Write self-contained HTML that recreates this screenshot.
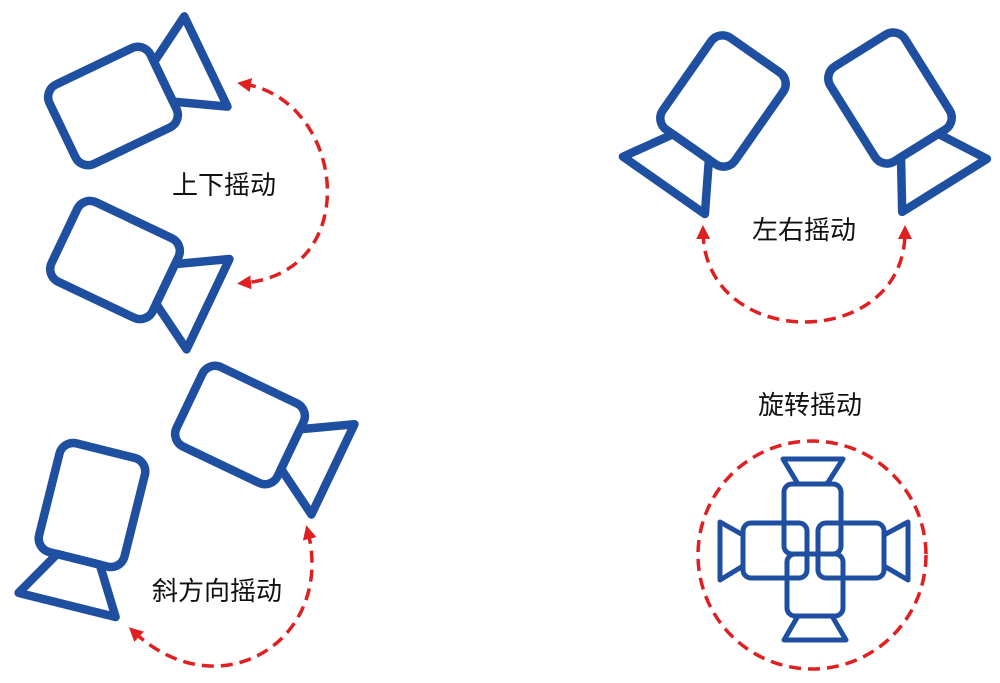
<!DOCTYPE html>
<html><head><meta charset="utf-8"><style>
html,body{margin:0;padding:0;background:#fff;}
svg{display:block;}
text{font-family:"Liberation Sans","Noto Sans CJK SC",sans-serif;font-size:26px;fill:#111;}
</style></head><body>
<svg width="1000" height="683" viewBox="0 0 1000 683" xmlns="http://www.w3.org/2000/svg">
<defs>
<g id="cam" fill="none" stroke="#1f4fa0" stroke-width="8.5" stroke-linejoin="round">
<rect x="-56" y="-44" width="112" height="88" rx="14"/>
<polygon points="56,-22 103,-50 103,50 56,22"/>
</g>
<marker id="ah" viewBox="0 0 10 10" refX="5" refY="5" markerWidth="4" markerHeight="4" orient="auto-start-reverse">
<path d="M0,0 L10,5 L0,10 z" fill="#e02020"/>
</marker>
</defs>
<g fill="none" stroke="#e02020" stroke-width="3.5" stroke-dasharray="12 7">
<path d="M244,84 C345,100 365,272 244,283" marker-start="url(#ah)" marker-end="url(#ah)"/>
<path d="M703,232 C705,352 905,352 905,232" marker-start="url(#ah)" marker-end="url(#ah)"/>
<path d="M308,532 C335,640 220,712 134,632" marker-start="url(#ah)" marker-end="url(#ah)"/>
<circle cx="812" cy="555" r="114"/>
</g>
<use href="#cam" transform="translate(113,106) rotate(-25.6)"/>
<use href="#cam" transform="translate(115,260) rotate(25.4)"/>
<use href="#cam" transform="translate(723,101) rotate(125)"/>
<use href="#cam" transform="translate(890,98) rotate(58)"/>
<use href="#cam" transform="translate(240,425) rotate(25.5)"/>
<use href="#cam" transform="translate(92,505) rotate(104)"/>
<g fill="none" stroke="#1f4fa0" stroke-width="5" stroke-linejoin="round">
<rect x="784" y="484" width="57" height="70" rx="8"/>
<polygon points="783,459 843,459 827,484 798,484"/>
<rect x="787" y="554" width="56" height="62" rx="8"/>
<polygon points="798,616 832,616 846,640 784,640"/>
<rect x="743" y="523" width="64" height="55" rx="8"/>
<polygon points="743,535 720,522 720,580 743,566"/>
<rect x="818" y="523" width="66" height="55" rx="8"/>
<polygon points="884,535 908,522 908,580 884,566"/>
</g>
<text x="172" y="194">上下摇动</text>
<text x="752" y="239">左右摇动</text>
<text x="152" y="600">斜方向摇动</text>
<text x="758" y="414">旋转摇动</text>
</svg>
</body></html>
